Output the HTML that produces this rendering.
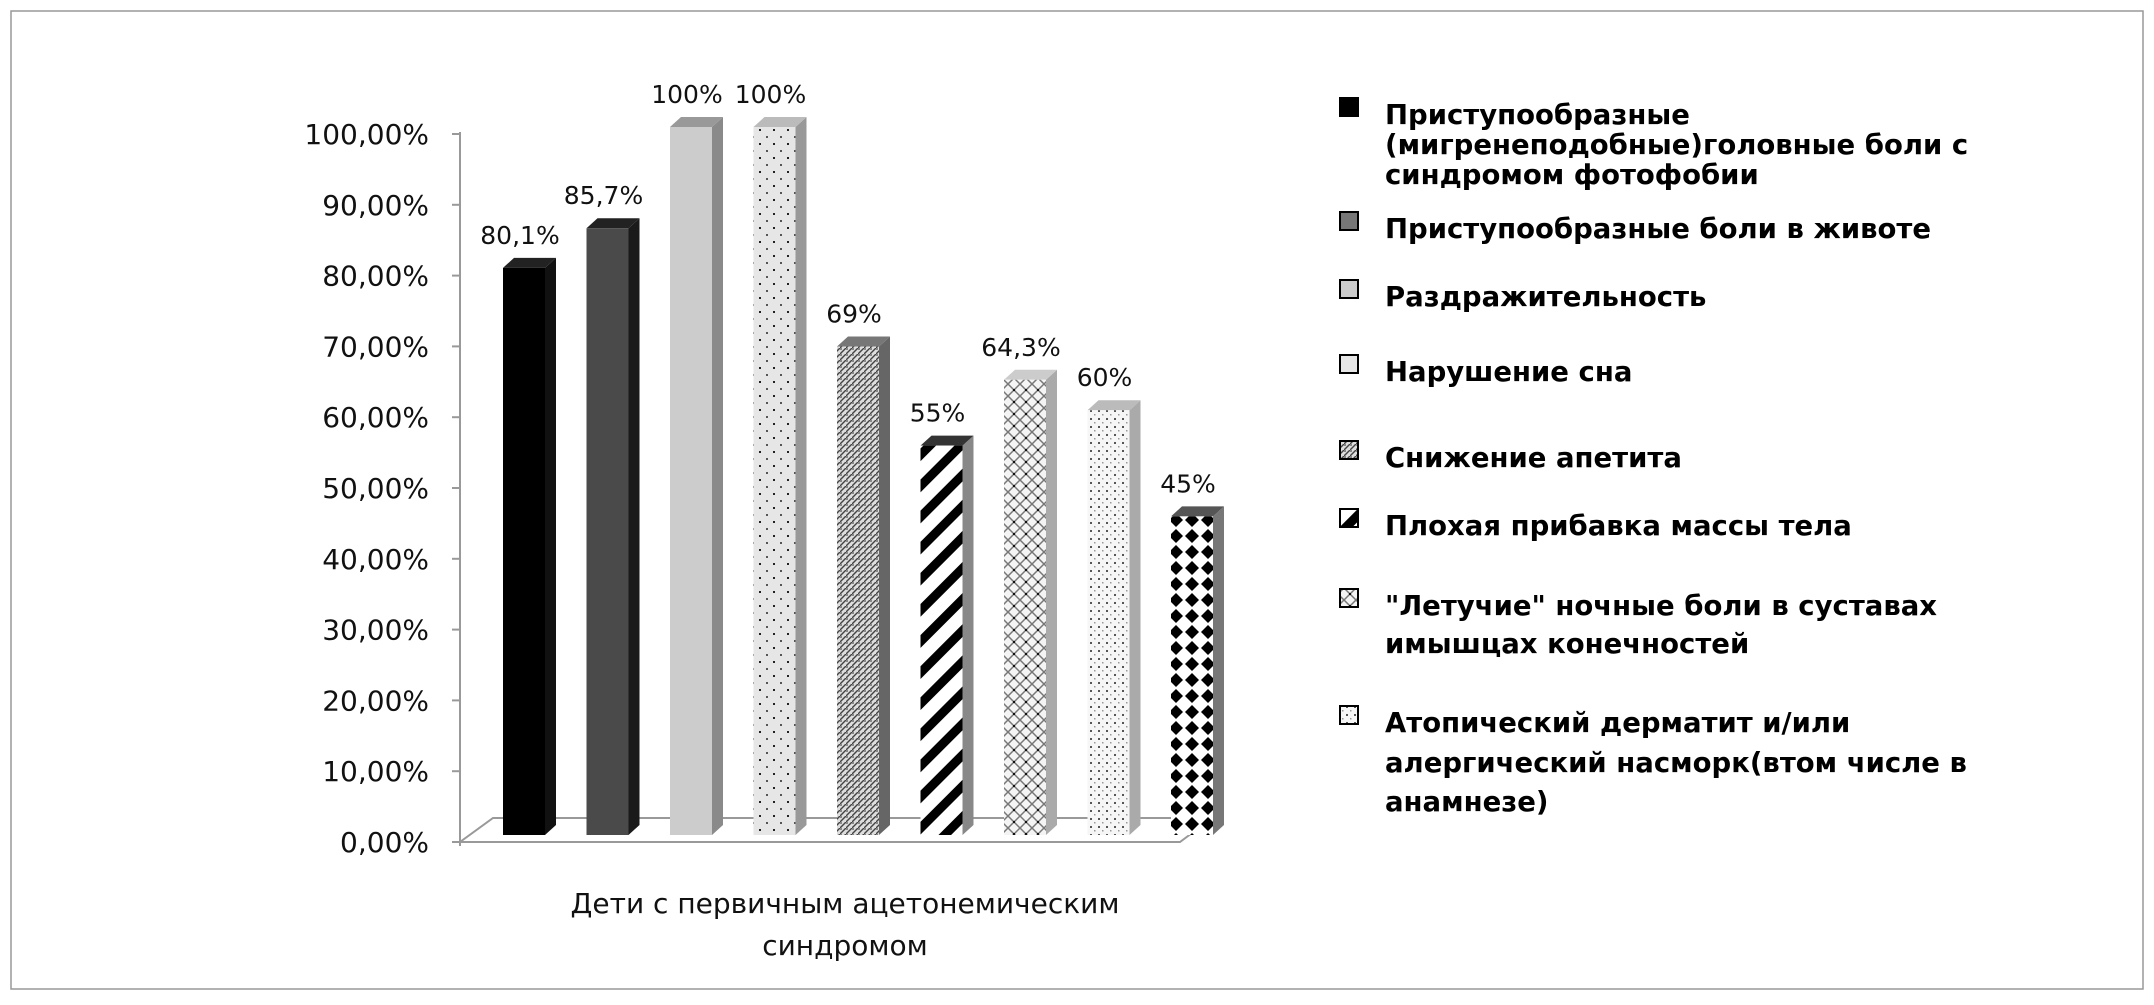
<!DOCTYPE html>
<html><head><meta charset="utf-8"><style>
body{margin:0;background:#fff;}
svg text{font-family:"DejaVu Sans","Liberation Sans",sans-serif;}
</style></head><body>
<svg width="2154" height="1000" viewBox="0 0 2154 1000" xmlns="http://www.w3.org/2000/svg">
<defs>
<clipPath id="legclip"><rect x="1320" y="60" width="655" height="800"/></clipPath>
<pattern id="p4" width="14" height="14" patternUnits="userSpaceOnUse"><rect width="14" height="14" fill="#e6e6e6"/><rect x="3" y="3" width="2" height="2" fill="#222"/><rect x="10" y="10" width="2" height="2" fill="#555"/></pattern>
<pattern id="p5" width="6" height="6" patternUnits="userSpaceOnUse"><rect width="6" height="6" fill="#ddd"/><path d="M0 6L6 0" stroke="#444" stroke-width="1.4"/><rect x="0" y="0" width="2" height="2" fill="#888"/></pattern>
<pattern id="p6" width="22" height="22" patternUnits="userSpaceOnUse" patternTransform="rotate(45)"><rect width="22" height="22" fill="#fff"/><rect width="9" height="22" fill="#000"/></pattern>
<pattern id="p7" width="12" height="12" patternUnits="userSpaceOnUse"><rect width="12" height="12" fill="#f4f4f4"/><path d="M0 12L12 0M0 0L12 12" stroke="#777" stroke-width="1.5"/><rect x="5" y="5" width="2" height="2" fill="#111"/></pattern>
<pattern id="p8" width="8" height="8" patternUnits="userSpaceOnUse"><rect width="8" height="8" fill="#f6f6f6"/><rect x="2" y="2" width="2" height="2" fill="#555"/><rect x="6" y="6" width="1.5" height="1.5" fill="#999"/></pattern>
<pattern id="p9" width="16" height="16" patternUnits="userSpaceOnUse"><rect width="16" height="16" fill="#fff"/><path d="M8 1L15 8L8 15L1 8Z" fill="#000"/></pattern>
</defs>
<rect x="11" y="11" width="2132" height="978" fill="#fff" stroke="#999" stroke-width="1.5"/>
<g id="axes"></g>
<g id="bars"></g>
<g id="legend" clip-path="url(#legclip)"></g>
<text x="845" y="913" font-size="28" text-anchor="middle" fill="#111">Дети с  первичным  ацетонемическим</text>
<text x="845" y="955" font-size="28" text-anchor="middle" fill="#111">синдромом</text>
</svg>
<script>
const categories=["Приступообразные (мигренеподобные)головные боли с синдромом фотофобии","Приступообразные боли в животе","Раздражительность","Нарушение сна","Снижение апетита","Плохая прибавка массы тела","\"Летучие\" ночные боли в суставах имышцах конечностей","Атопический дерматит и/или алергический насморк(втом числе в анамнезе)","—"];
const values=[80.1,85.7,100,100,69,55,64.3,60,45];
const valueLabels=["80,1%","85,7%","100%","100%","69%","55%","64,3%","60%","45%"];
const tickValues=[0,10,20,30,40,50,60,70,80,90,100];
const tickLabels=["0,00%","10,00%","20,00%","30,00%","40,00%","50,00%","60,00%","70,00%","80,00%","90,00%","100,00%"];
const legendLines=[["Приступообразные","(мигренеподобные)головные боли с","синдромом фотофобии"],["Приступообразные боли в животе"],["Раздражительность"],["Нарушение сна"],["Снижение апетита"],["Плохая прибавка массы тела"],["\"Летучие\" ночные боли в суставах","имышцах конечностей"],["Атопический дерматит и/или","алергический насморк(втом числе в","анамнезе)"]];

const NS="http://www.w3.org/2000/svg";
const fronts=["#000","#4a4a4a","#cccccc","url(#p4)","url(#p5)","url(#p6)","url(#p7)","url(#p8)","url(#p9)"];
const sides=["#111","#1a1a1a","#8a8a8a","#999","#666","#888","#aaa","#aaa","#777"];
const tops=["#222","#222","#999","#bbb","#777","#333","#ccc","#bbb","#555"];
const swatch=["#000","#777","#ccc","#e6e6e6","url(#p5)","url(#p6)","url(#p7)","url(#p8)"];
function mk(tag,attrs,parent){const e=document.createElementNS(NS,tag);for(const k in attrs)e.setAttribute(k,attrs[k]);parent.appendChild(e);return e;}
const yAxis=v=>842-v*7.08;
const yBar=v=>835-v*7.08;
const xBar=i=>503+i*83.5;
const axes=document.getElementById('axes');
mk('polygon',{points:"460,842 1180,842 1212,818 493,818",fill:"none",stroke:"#999","stroke-width":2},axes);
mk('line',{x1:460,y1:132,x2:460,y2:846,stroke:"#999","stroke-width":2},axes);
tickValues.forEach((v,i)=>{
  const t=mk('line',{x1:452,y1:yAxis(v),x2:460,y2:yAxis(v),stroke:"#999","stroke-width":2},axes);
  
  
  const l=mk('text',{x:429,y:yAxis(v)+10,"font-size":28,"text-anchor":"end",fill:"#111"},axes);
  l.textContent=tickLabels[i];
  
  
});
const bars=document.getElementById('bars');
values.forEach((v,i)=>{
  const x=xBar(i),w=42,dx=11,dy=10,yt=yBar(v),yb=835;
  const g=mk('g',{},bars);
  
  
  mk('polygon',{points:`${x+w},${yt} ${x+w+dx},${yt-dy} ${x+w+dx},${yb-dy} ${x+w},${yb}`,fill:sides[i]},g);
  mk('polygon',{points:`${x},${yt} ${x+dx},${yt-dy} ${x+w+dx},${yt-dy} ${x+w},${yt}`,fill:tops[i]},g);
  mk('rect',{x:x,y:yt,width:w,height:yb-yt,fill:fronts[i]},g);
  const l=mk('text',{x:x+w/2-4,y:yt-24,"font-size":25,"text-anchor":"middle",fill:"#111"},bars);
  l.textContent=valueLabels[i];
  
  
});
const legend=document.getElementById('legend');
const rowY=[[115,145,175],[229],[297],[372],[458],[526],[606,644],[723,763,802]];
legendLines.forEach((lines,i)=>{
  const g=mk('g',{},legend);
  
  
  mk('rect',{x:1340,y:rowY[i][0]-17,width:18,height:18,fill:swatch[i],stroke:"#000","stroke-width":2},g);
  lines.forEach((s,j)=>{
    const t=mk('text',{x:1385,y:rowY[i][j]+9,"font-size":27.5,"font-weight":"bold",fill:"#000"},g);
    t.textContent=s;
  });
});
</script>
</body></html>
